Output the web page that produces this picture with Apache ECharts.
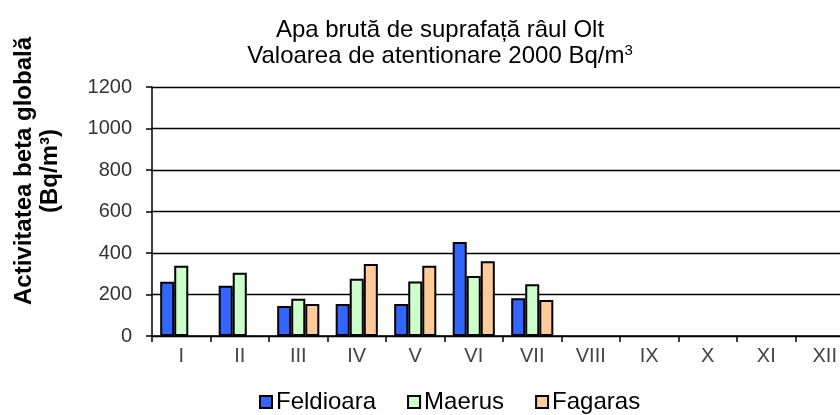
<!DOCTYPE html>
<html><head><meta charset="utf-8">
<script src="https://cdn.jsdelivr.net/npm/echarts@6/dist/echarts.min.js"></script>
<style>html,body{margin:0;padding:0;background:#fff;overflow:hidden;width:840px;height:415px}#c{width:854px;height:415px}</style>
</head><body><div id="c"></div>
<script>
var categories = ['I','II','III','IV','V','VI','VII','VIII','IX','X','XI','XII'];
var feldioara = [262, 242, 145, 154, 154, 453, 182, null, null, null, null, null];
var maerus    = [339, 305, 180, 276, 263, 289, 249, null, null, null, null, null];
var fagaras   = [null, null, 154, 347, 339, 360, 173, null, null, null, null, null];
var yTicks = [0, 200, 400, 600, 800, 1000, 1200];

var chart = echarts.init(document.getElementById('c'));
var font = 'Liberation Sans, Arial, sans-serif';
function mk(name, data, color) {
  return { name: name, type: 'bar', data: data, barGap: '0%', barCategoryGap: '28%',
    itemStyle: { color: color, borderColor: '#000', borderWidth: 2 } };
}
chart.setOption({
  animation: false,
  title: {
    text: 'Apa brută de suprafață râul Olt\nValoarea de atentionare 2000 Bq/m{s|3}',
    left: 435, top: 12, textAlign: 'center',
    textStyle: { fontFamily: font, fontSize: 24, fontWeight: 'normal', color: '#000', lineHeight: 26,
      rich: { s: { fontSize: 15, verticalAlign: 'top', lineHeight: 16, fontFamily: font, color: '#000' } } }
  },
  graphic: [{
    type: 'text', x: 37, y: 171, rotation: Math.PI / 2,
    style: { text: 'Activitatea beta globală\n(Bq/m³)', fontFamily: font, fontSize: 24, fontWeight: 'bold',
      fill: '#000', align: 'center', verticalAlign: 'middle', lineHeight: 26 }
  }],
  legend: {
    top: 385, left: 254, itemGap: 31, itemWidth: 12, itemHeight: 12, icon: 'rect',
    textStyle: { fontFamily: font, fontSize: 24, color: '#000', padding: [0, 0, 0, -1] },
    data: ['Feldioara', 'Maerus', 'Fagaras']
  },
  grid: { left: 152, top: 87, bottom: 79, right: 0 },
  xAxis: {
    type: 'category', data: categories,
    axisLine: { lineStyle: { color: '#000', width: 1.5 } },
    axisTick: { show: true, length: 6, lineStyle: { color: '#000', width: 1.5 } },
    axisLabel: { fontFamily: font, fontSize: 20, color: '#444', margin: 10 }
  },
  yAxis: {
    type: 'value', min: 0, max: 1200, interval: 200,
    axisLine: { show: true, lineStyle: { color: '#000', width: 1.5 } },
    axisTick: { show: true, length: 6, lineStyle: { color: '#000', width: 1.5 } },
    splitLine: { lineStyle: { color: '#000', width: 1.3 } },
    axisLabel: { fontFamily: font, fontSize: 20, color: '#333', margin: 20,
      formatter: function (v) { return yTicks.indexOf(v) >= 0 ? String(v) : ''; } }
  },
  series: [mk('Feldioara', feldioara, '#3366FF'), mk('Maerus', maerus, '#CCFFCC'), mk('Fagaras', fagaras, '#FFCC99')]
});
</script></body></html>
